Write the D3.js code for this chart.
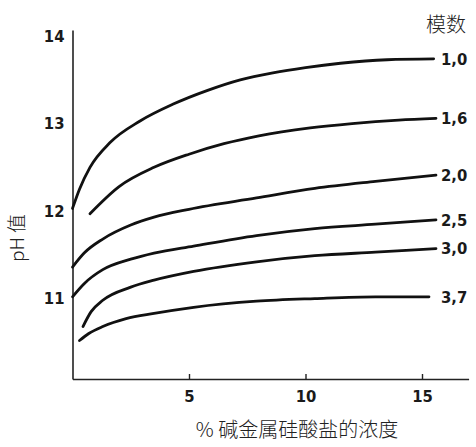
<!DOCTYPE html>
<html>
<head>
<meta charset="utf-8">
<script src="https://cdn.jsdelivr.net/npm/d3@7"></script>
<style>
  html, body { margin: 0; padding: 0; background: #fff; }
  svg { display: block; }
</style>
</head>
<body>
<svg id="chart" width="476" height="447"></svg>
<script>
// modulus labels, one per curve (top to bottom)
const moduli = ['1,0', '1,6', '2,0', '2,5', '3,0', '3,7']
// [concentration %, pH]
const curve10 = [[0, 12.03], [0.3, 12.25], [0.75, 12.5], [1.6, 12.78], [2.9, 13.03], [4.3, 13.22], [5.8, 13.38], [7.2, 13.5], [8.6, 13.58], [10, 13.64], [11.5, 13.69], [13.5, 13.73], [15.5, 13.74]]
const curve16 = [[0.75, 11.97], [2.0, 12.28], [3.5, 12.5], [5.0, 12.65], [6.5, 12.77], [8, 12.86], [10.2, 12.95], [12, 13.0], [14, 13.04], [15.6, 13.06]]
const curve20 = [[0, 11.36], [0.5, 11.52], [1.3, 11.68], [2.5, 11.84], [3.5, 11.93], [5, 12.02], [7.9, 12.15], [10.4, 12.26], [13, 12.34], [15.6, 12.41]]
const curve25 = [[0, 11.02], [0.5, 11.17], [1.3, 11.33], [2.5, 11.45], [3.5, 11.52], [5.2, 11.6], [7.9, 11.72], [10.4, 11.8], [13, 11.85], [15.6, 11.9]]
const curve30 = [[0.45, 10.68], [0.8, 10.85], [1.3, 10.98], [2.5, 11.13], [3.5, 11.21], [5.2, 11.31], [7.9, 11.42], [10.4, 11.49], [13, 11.53], [15.6, 11.57]]
const curve37 = [[0.3, 10.52], [0.7, 10.6], [1.3, 10.68], [2.3, 10.77], [3.5, 10.83], [5.2, 10.9], [7.9, 10.97], [10.4, 11.0], [13, 11.02], [15.3, 11.02]]
const curves = [curve10, curve16, curve20, curve25, curve30, curve37]
const yTicks = [11, 12, 13, 14]
const xTicks = [5, 10, 15]

const svg = d3.select('#chart')
const x = d3.scaleLinear().domain([0, 17]).range([72.5, 468.6])
const y = d3.scaleLinear().domain([10.08, 14.07]).range([379, 30])

const numFont = '"DejaVu Sans Condensed", "Liberation Sans Narrow", sans-serif'
const cjkFont = '"Noto Sans CJK SC", "Noto Sans", sans-serif'

function numStyle(sel) {
  sel
    .style('font-family', numFont)
    .style('font-stretch', 'condensed')
    .style('font-size', '16.5px')
    .style('font-weight', 'bold')
    .attr('fill', '#1a1a1a')
}

// y axis: plain line with labels, no tick marks
const yAxis = svg.append('g')
  .attr('transform', `translate(${x(0)},0)`)
  .call(d3.axisLeft(y).tickValues(yTicks).tickSize(0).tickPadding(8).tickFormat(d3.format('d')))
yAxis.select('.domain').attr('stroke', '#222').attr('stroke-width', 1.6)
yAxis.selectAll('text').call(numStyle)

// x axis: ticks point up into the plot
const xAxis = svg.append('g')
  .attr('transform', `translate(0,${y.range()[0]})`)
  .call(d3.axisBottom(x).tickValues(xTicks).tickSizeInner(-5).tickSizeOuter(0).tickPadding(11))
xAxis.select('.domain').attr('stroke', '#222').attr('stroke-width', 1.6)
xAxis.selectAll('.tick line').attr('stroke', '#222').attr('stroke-width', 1.4)
xAxis.selectAll('text').call(numStyle)

const line = d3.line()
  .x((d) => x(d[0]))
  .y((d) => y(d[1]))
  .curve(d3.curveMonotoneX)

svg.append('g')
  .selectAll('path')
  .data(curves)
  .join('path')
  .attr('d', line)
  .attr('fill', 'none')
  .attr('stroke', '#111')
  .attr('stroke-width', 2.8)
  .attr('stroke-linecap', 'round')

// modulus labels at the right end of each curve
svg.append('g')
  .selectAll('text')
  .data(curves)
  .join('text')
  .attr('x', 441)
  .attr('y', (d) => y(d[d.length - 1][1]))
  .attr('dy', '0.35em')
  .call(numStyle)
  .text((d, i) => moduli[i])

svg.append('text')
  .attr('x', 446)
  .attr('y', 25)
  .attr('dy', '0.35em')
  .attr('text-anchor', 'middle')
  .style('font-family', cjkFont)
  .style('font-size', '20px')
  .style('font-weight', 300)
  .attr('fill', '#222')
  .text('模数')

svg.append('text')
  .attr('transform', 'translate(17,238) rotate(-90)')
  .attr('dy', '0.35em')
  .attr('text-anchor', 'middle')
  .style('font-family', cjkFont)
  .style('font-size', '19px')
  .style('font-weight', 300)
  .attr('fill', '#222')
  .text('pH 值')

svg.append('text')
  .attr('x', 297)
  .attr('y', 430)
  .attr('dy', '0.35em')
  .attr('text-anchor', 'middle')
  .style('font-family', cjkFont)
  .style('font-size', '20px')
  .style('font-weight', 300)
  .attr('fill', '#222')
  .text('% 碱金属硅酸盐的浓度')
</script>
</body>
</html>
